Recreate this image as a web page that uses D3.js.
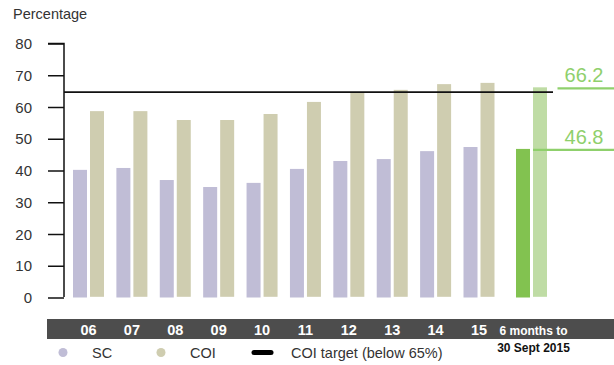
<!DOCTYPE html>
<html>
<head>
<meta charset="utf-8">
<script src="https://cdn.jsdelivr.net/npm/d3@7"></script>
<style>
  html, body { margin: 0; padding: 0; background: #fff; }
  svg { display: block; font-family: "Liberation Sans", Arial, sans-serif; }
</style>
</head>
<body>
<svg id="chart" width="614" height="365"></svg>
<script>
// Year labels and the half-year period
const categories = ["06", "07", "08", "09", "10", "11", "12", "13", "14", "15", "6 months to"];
const periodSubLabel = "30 Sept 2015";
// Series values (%)
const scValues  = [40.2, 40.8, 37.0, 34.8, 36.1, 40.5, 43.0, 43.6, 46.1, 47.4, 46.8];
const coiValues = [58.7, 58.7, 55.9, 55.9, 57.8, 61.6, 64.5, 65.4, 67.2, 67.6, 66.2];
const targetValue = 65;
const yTicks = [0, 10, 20, 30, 40, 50, 60, 70, 80];
const legendItems = ["SC", "COI", "COI target (below 65%)"];

const svg = d3.select("#chart");

const colors = {
  sc: "#c0bdd6", coi: "#cfcdb0",
  scLast: "#82c250", coiLast: "#bfdca5",
  label: "#8fd06c", band: "#4d4d4d", text: "#333"
};

const y = d3.scaleLinear().domain([0, 80]).range([297.5, 43.5]);

// slot position: the half-year period sits a little further right
const slot = i => (i === categories.length - 1 ? i + 0.21 : i);
const x = d3.scaleLinear().domain([0, 9]).range([88.5, 479]);
const barW = 14, gap = 3;

// Y axis
const axisX = 64;
const yAxis = d3.axisLeft(y).tickValues(yTicks).tickSize(16).tickPadding(16);
const gy = svg.append("g").attr("transform", `translate(${axisX},0)`).call(yAxis);
gy.select(".domain").attr("d", `M-16,${y(80)}H0V${y(0) - 0.5}`).attr("stroke", "#111").attr("stroke-width", 1.5);
gy.selectAll(".tick line").attr("stroke", "#111").attr("stroke-width", 1.5);
gy.selectAll(".tick text").attr("fill", colors.text).attr("font-size", 15).attr("dy", "0.34em");

svg.append("text").attr("x", 13).attr("y", 19).attr("font-size", 14.5).attr("fill", colors.text).text("Percentage");

const last = categories.length - 1;

// SC bars
svg.append("g").selectAll("rect").data(scValues).join("rect")
  .attr("x", (d, i) => x(slot(i)) - barW - gap / 2)
  .attr("y", d => y(d))
  .attr("width", barW)
  .attr("height", d => y(0) - y(d))
  .attr("fill", (d, i) => i === last ? colors.scLast : colors.sc);

// COI bars
svg.append("g").selectAll("rect").data(coiValues).join("rect")
  .attr("x", (d, i) => x(slot(i)) + gap / 2)
  .attr("y", d => y(d))
  .attr("width", barW)
  .attr("height", d => y(0) - y(d) - 0.7)
  .attr("fill", (d, i) => i === last ? colors.coiLast : colors.coi);

// Target line
svg.append("line")
  .attr("x1", axisX).attr("x2", 553)
  .attr("y1", y(targetValue) + 1).attr("y2", y(targetValue) + 1)
  .attr("stroke", "#111").attr("stroke-width", 1.6);

// Value callouts for the half-year period
const lastX = x(slot(last));
const callouts = [
  { v: coiValues[last], x1: lastX + 26, tx: 584 },
  { v: scValues[last], x1: lastX + gap / 2, tx: 584 }
];
callouts.forEach(c => {
  svg.append("line")
    .attr("x1", c.x1).attr("x2", 614)
    .attr("y1", y(c.v) + 1).attr("y2", y(c.v) + 1)
    .attr("stroke", colors.label).attr("stroke-width", 2.2);
  svg.append("text")
    .attr("x", c.tx).attr("y", y(c.v) - 5)
    .attr("text-anchor", "middle")
    .attr("font-size", 20).attr("fill", colors.label)
    .text(c.v.toFixed(1));
});

// Category band
svg.append("rect").attr("x", 47).attr("y", 319).attr("width", 567).attr("height", 20).attr("fill", colors.band);
svg.append("g").selectAll("text").data(categories).join("text")
  .attr("x", (d, i) => x(slot(i)) + (i === last ? 2 : 0))
  .attr("y", 335)
  .attr("text-anchor", "middle")
  .attr("font-weight", "bold")
  .attr("font-size", (d, i) => i === last ? 12 : 14.5)
  .attr("fill", "#fff")
  .text(d => d);
svg.append("text")
  .attr("x", lastX + 2).attr("y", 352)
  .attr("text-anchor", "middle").attr("font-weight", "bold")
  .attr("font-size", 12).attr("fill", "#111")
  .text(periodSubLabel);

// Legend
const lg = svg.append("g");
lg.append("circle").attr("cx", 63).attr("cy", 352.5).attr("r", 4.5).attr("fill", colors.sc);
lg.append("text").attr("x", 92).attr("y", 358).attr("font-size", 14.5).attr("fill", colors.text).text(legendItems[0]);
lg.append("circle").attr("cx", 161).attr("cy", 352.5).attr("r", 4.5).attr("fill", colors.coi);
lg.append("text").attr("x", 190).attr("y", 358).attr("font-size", 14.5).attr("fill", colors.text).text(legendItems[1]);
lg.append("line").attr("x1", 254).attr("x2", 271).attr("y1", 352.5).attr("y2", 352.5)
  .attr("stroke", "#000").attr("stroke-width", 5).attr("stroke-linecap", "round");
lg.append("text").attr("x", 291).attr("y", 358).attr("font-size", 14.5).attr("fill", colors.text).text(legendItems[2]);
</script>
</body>
</html>
